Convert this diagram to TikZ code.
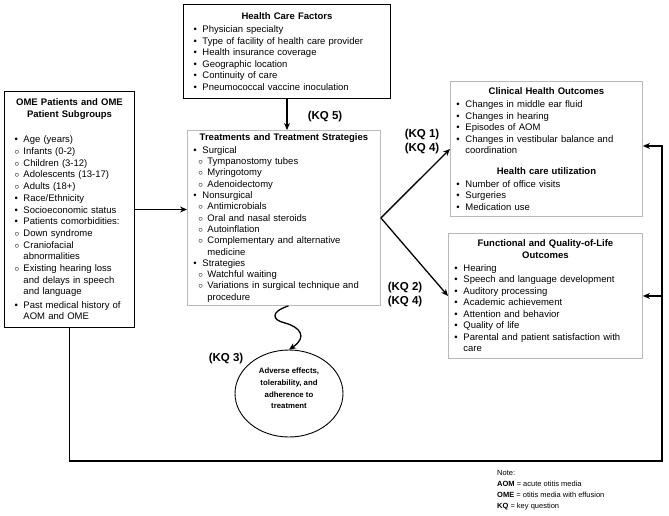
\documentclass[tikz,border=0pt]{standalone}
\usepackage{fontspec}
\setmainfont{Liberation Sans}
\usetikzlibrary{shapes.geometric,arrows.meta}

\newcommand{\boxtitle}[1]{{\centering\bfseries #1\par}\vspace{1.5pt}}
\newcommand{\bitem}[2][11pt]{\noindent\hangindent=#1\hangafter=1\makebox[#1][l]{\hspace{\dimexpr#1-9pt\relax}\textbullet}#2\par}
\newcommand{\citem}[2][16pt]{\noindent\hangindent=#1\hangafter=1\makebox[#1][l]{\hspace{\dimexpr#1-9pt\relax}$\circ$}#2\par}

\tikzset{
  factorbox/.style={draw, line width=1pt, anchor=north west, align=left, inner xsep=4pt, inner ysep=3pt, font=\fontsize{9.5}{11.5}\selectfont},
  greybox/.style={factorbox, draw=gray!55, line width=0.9pt},
  kqlabel/.style={font=\fontsize{11.5}{13}\selectfont\bfseries},
  link/.style={line width=1.3pt, -{Stealth[length=7pt,width=6pt]}},
}

\begin{document}
\begin{tikzpicture}[x=1pt,y=-1pt]
\useasboundingbox (0,0) rectangle (669,515);

\node[factorbox, text width=199pt, minimum height=94pt] (hcf) at (183,4) {%
\boxtitle{Health Care Factors}
\bitem[15pt]{Physician specialty}
\bitem[15pt]{Type of facility of health care provider}
\bitem[15pt]{Health insurance coverage}
\bitem[15pt]{Geographic location}
\bitem[15pt]{Continuity of care}
\bitem[15pt]{Pneumococcal vaccine inoculation}};

\node[factorbox, text width=122pt, minimum height=236pt, font=\fontsize{9.5}{11.7}\selectfont] (ome) at (4,91) {%
\boxtitle{OME Patients and OME\\Patient Subgroups}\vspace{12pt}
\bitem[15pt]{Age (years)}
\citem[15pt]{Infants (0-2)}
\citem[15pt]{Children (3-12)}
\citem[15pt]{Adolescents (13-17)}
\citem[15pt]{Adults (18+)}
\bitem[15pt]{Race/Ethnicity}
\bitem[15pt]{Socioeconomic status}
\bitem[15pt]{Patients comorbidities:}
\citem[15pt]{Down syndrome}
\citem[15pt]{Craniofacial\newline abnormalities}
\citem[15pt]{Existing hearing loss\newline and delays in speech\newline and language}
\vspace{1.5pt}
\bitem[15pt]{Past medical history of\newline AOM and OME}};

\node[greybox, text width=185pt, minimum height=175pt, font=\fontsize{9.5}{11.3}\selectfont] (treat) at (187,130) {%
\boxtitle{Treatments and Treatment Strategies}
\bitem{Surgical}
\citem{Tympanostomy tubes}
\citem{Myringotomy}
\citem{Adenoidectomy}
\bitem{Nonsurgical}
\citem{Antimicrobials}
\citem{Oral and nasal steroids}
\citem{Autoinflation}
\citem{Complementary and alternative\newline medicine}
\bitem{Strategies}
\citem{Watchful waiting}
\citem{Variations in surgical technique and\newline procedure}};

\node[greybox, text width=184pt, minimum height=135pt] (clin) at (450,81) {%
\boxtitle{Clinical Health Outcomes}
\bitem{Changes in middle ear fluid}
\bitem{Changes in hearing}
\bitem{Episodes of AOM}
\bitem{Changes in vestibular balance and\newline coordination}
\vspace{9pt}
\boxtitle{Health care utilization}
\bitem{Number of office visits}
\bitem{Surgeries}
\bitem{Medication use}};

\node[greybox, text width=186pt, minimum height=125pt] (func) at (448,233) {%
\boxtitle{Functional and Quality-of-Life\\Outcomes}
\bitem{Hearing}
\bitem{Speech and language development}
\bitem{Auditory processing}
\bitem{Academic achievement}
\bitem{Attention and behavior}
\bitem{Quality of life}
\bitem{Parental and patient satisfaction with\newline care}};

\node[ellipse, draw, line width=0.9pt, minimum width=108pt, minimum height=87pt] (adv) at (289,393.5) {};
\node[align=center, font=\fontsize{7.8}{11.6}\selectfont\bfseries] (advtext) at ([yshift=5pt]adv.center)
  {Adverse effects,\\tolerability, and\\adherence to\\treatment};

\node[kqlabel] (kq5) at (325,117) {(KQ 5)};
\node[kqlabel] (kq1) at (422,135) {(KQ 1)};
\node[kqlabel] (kq4a) at (422,149) {(KQ 4)};
\node[kqlabel] (kq2) at (405,288) {(KQ 2)};
\node[kqlabel] (kq4b) at (405,302) {(KQ 4)};
\node[kqlabel] (kq3) at (226,359) {(KQ 3)};

\node[anchor=north west, align=left, inner sep=0pt, font=\fontsize{7.5}{11}\selectfont] (note) at (497,470)
  {Note:\\\textbf{AOM} = acute otitis media\\\textbf{OME} = otitis media with effusion\\\textbf{KQ} = key question};

\coordinate (corner) at (662,461);

\draw[link] (hcf.south) -- (hcf.south |- treat.north);
\draw[link] (ome.east) -- (ome.east -| treat.west);
\draw[link] (treat.east) -- (clin.west);
\draw[link] (treat.east) -- (func.west);
\draw[link] ([xshift=4.5pt]treat.south) .. controls (270,312) and (272,320) .. (285,323)
  .. controls (300,327) and (308,337) .. (adv.north);
\draw[link] (ome.south) |- (corner) |- ([yshift=3pt]clin.east);
\draw[link] (corner |- func.east) -- (func.east);
\end{tikzpicture}
\end{document}
